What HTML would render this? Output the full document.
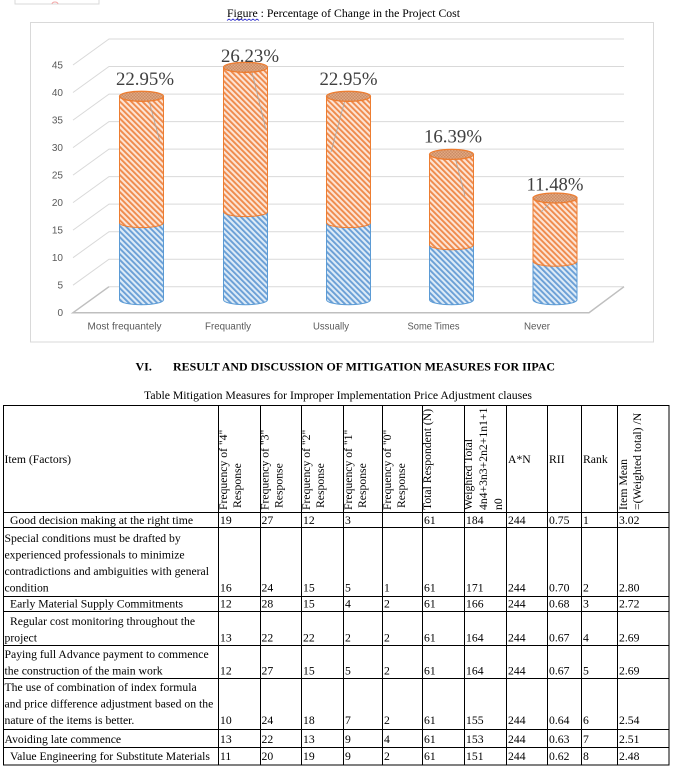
<!DOCTYPE html>
<html>
<head>
<meta charset="utf-8">
<style>
  html,body{margin:0;padding:0;background:#fff;}
  svg{display:block;}
  .serif{font-family:"Liberation Serif","Times New Roman",serif;}
  .sans{font-family:"Liberation Sans",Arial,sans-serif;}
  .tb{font-family:"Liberation Serif","Times New Roman",serif;font-size:11.7px;fill:#000;}
</style>
</head>
<body>
<svg width="689" height="774" viewBox="0 0 689 774" xmlns="http://www.w3.org/2000/svg">
  <defs>
    <pattern id="po" width="4" height="4" patternUnits="userSpaceOnUse" patternTransform="rotate(-45)">
      <rect width="4" height="4" fill="#FCE4D5"/>
      <rect width="1.9" height="4" fill="#EF8A4C"/>
    </pattern>
    <pattern id="pb" width="4" height="4" patternUnits="userSpaceOnUse" patternTransform="rotate(-45)">
      <rect width="4" height="4" fill="#DDEBF7"/>
      <rect width="1.9" height="4" fill="#6A9FD6"/>
    </pattern>
    <pattern id="pt" width="3" height="3" patternUnits="userSpaceOnUse">
      <rect width="3" height="3" fill="#E3A880"/>
      <rect width="1.5" height="1.5" fill="#C98C66"/>
      <rect x="1.5" y="1.5" width="1.5" height="1.5" fill="#C98C66"/>
    </pattern>
  </defs>

  <!-- top-left cut box -->
  <rect x="15" y="-10" width="84" height="14" fill="none" stroke="#d9d9d9"/>
  <path d="M52,4 a3,2 0 0 1 6,0" stroke="#f2a7a7" fill="none"/>

  <!-- Figure title -->
  <text class="serif" x="227" y="17" font-size="12" textLength="233" lengthAdjust="spacingAndGlyphs" fill="#000">Figure : Percentage of Change in the Project Cost</text>
  <polyline points="227,20.5 229,19 231,20.5 233,19 235,20.5 237,19 239,20.5 241,19 243,20.5 245,19 247,20.5 249,19 251,20.5 253,19 255,20.5 257,19 259,20.5" fill="none" stroke="#3b3bd0" stroke-width="0.8"/>

  <!-- Chart frame -->
  <rect x="30.5" y="22.5" width="623" height="319.5" fill="#fff" stroke="#d9d9d9" stroke-width="1"/>

  <!-- Gridlines: back wall + side diagonals -->
  <g stroke="#d9d9d9" stroke-width="1" fill="none">
    <polyline points="73,285.2 109,259.2 624,259.2"/>
    <polyline points="73,257.7 109,231.7 624,231.7"/>
    <polyline points="73,230.1 109,204.1 624,204.1"/>
    <polyline points="73,202.6 109,176.6 624,176.6"/>
    <polyline points="73,175.1 109,149.1 624,149.1"/>
    <polyline points="73,147.6 109,121.6 624,121.6"/>
    <polyline points="73,120.1 109,94.1 624,94.1"/>
    <polyline points="73,92.5 109,66.5 624,66.5"/>
    <polyline points="73,65.0 109,39.0 624,39.0"/>
    <line x1="109" y1="286.7" x2="624" y2="286.7"/>
  </g>
  <!-- Floor -->
  <polyline points="109,286.7 73,312.7 589,312.7 624,286.7" fill="none" stroke="#bfbfbf" stroke-width="1.5"/>

  <!-- Y labels -->
  <g class="sans" font-size="10" fill="#595959" text-anchor="end">
    <text x="63" y="316.2">0</text>
    <text x="63" y="288.7">5</text>
    <text x="63" y="261.2">10</text>
    <text x="63" y="233.6">15</text>
    <text x="63" y="206.1">20</text>
    <text x="63" y="178.6">25</text>
    <text x="63" y="151.1">30</text>
    <text x="63" y="123.6">35</text>
    <text x="63" y="96.0">40</text>
    <text x="63" y="68.5">45</text>
  </g>

  <!-- Bars -->
  <!-- Bar 1 cx=141.5 -->
  <path d="M119.5,222.6 L119.5,299.7 A22,5 0 0 0 163.5,299.7 L163.5,222.6 Z" fill="url(#pb)" stroke="#5B9BD5" stroke-width="1"/>
  <path d="M119.5,96.3 L119.5,222.6 A22,5 0 0 0 163.5,222.6 L163.5,96.3 Z" fill="url(#po)" stroke="#ED7D31" stroke-width="1"/>
  <line x1="148" y1="97" x2="160" y2="142" stroke="#a6a6a6" stroke-width="0.8"/>
  <ellipse cx="141.5" cy="96.3" rx="22" ry="5" fill="url(#pt)" stroke="#ED7D31" stroke-width="1.3"/>

  <!-- Bar 2 cx=245.5 -->
  <path d="M223.5,211.6 L223.5,299.7 A22,5 0 0 0 267.5,299.7 L267.5,211.6 Z" fill="url(#pb)" stroke="#5B9BD5" stroke-width="1"/>
  <path d="M223.5,67.3 L223.5,211.6 A22,5 0 0 0 267.5,211.6 L267.5,67.3 Z" fill="url(#po)" stroke="#ED7D31" stroke-width="1"/>
  <line x1="251" y1="68" x2="266" y2="130" stroke="#a6a6a6" stroke-width="0.8"/>
  <ellipse cx="245.5" cy="67.3" rx="22" ry="5" fill="url(#pt)" stroke="#ED7D31" stroke-width="1.3"/>

  <!-- Bar 3 cx=348.5 -->
  <path d="M326.5,222.6 L326.5,299.7 A22,5 0 0 0 370.5,299.7 L370.5,222.6 Z" fill="url(#pb)" stroke="#5B9BD5" stroke-width="1"/>
  <path d="M326.5,96.3 L326.5,222.6 A22,5 0 0 0 370.5,222.6 L370.5,96.3 Z" fill="url(#po)" stroke="#ED7D31" stroke-width="1"/>
  <line x1="345" y1="100" x2="331" y2="152" stroke="#a6a6a6" stroke-width="0.8"/>
  <ellipse cx="348.5" cy="96.3" rx="22" ry="5" fill="url(#pt)" stroke="#ED7D31" stroke-width="1.3"/>

  <!-- Bar 4 cx=451.5 -->
  <path d="M429.5,244.7 L429.5,299.7 A22,5 0 0 0 473.5,299.7 L473.5,244.7 Z" fill="url(#pb)" stroke="#5B9BD5" stroke-width="1"/>
  <path d="M429.5,154.4 L429.5,244.7 A22,5 0 0 0 473.5,244.7 L473.5,154.4 Z" fill="url(#po)" stroke="#ED7D31" stroke-width="1"/>
  <line x1="455" y1="157" x2="465" y2="196" stroke="#a6a6a6" stroke-width="0.8"/>
  <ellipse cx="451.5" cy="154.4" rx="22" ry="5" fill="url(#pt)" stroke="#ED7D31" stroke-width="1.3"/>

  <!-- Bar 5 cx=555 -->
  <path d="M533,261.2 L533,299.7 A22,5 0 0 0 577,299.7 L577,261.2 Z" fill="url(#pb)" stroke="#5B9BD5" stroke-width="1"/>
  <path d="M533,198.0 L533,261.2 A22,5 0 0 0 577,261.2 L577,198.0 Z" fill="url(#po)" stroke="#ED7D31" stroke-width="1"/>
  <line x1="553" y1="200" x2="541" y2="212" stroke="#a6a6a6" stroke-width="0.8"/>
  <ellipse cx="555" cy="198.0" rx="22" ry="5" fill="url(#pt)" stroke="#ED7D31" stroke-width="1.3"/>

  <!-- Data labels -->
  <g class="serif" font-size="19" fill="#404040" text-anchor="middle">
    <text x="145" y="85" textLength="58" lengthAdjust="spacingAndGlyphs">22.95%</text>
    <text x="250" y="62" textLength="58" lengthAdjust="spacingAndGlyphs">26.23%</text>
    <text x="348.5" y="85" textLength="58" lengthAdjust="spacingAndGlyphs">22.95%</text>
    <text x="453" y="142.7" textLength="58" lengthAdjust="spacingAndGlyphs">16.39%</text>
    <text x="555" y="190.7" textLength="57" lengthAdjust="spacingAndGlyphs">11.48%</text>
  </g>

  <!-- X labels -->
  <g class="sans" font-size="10" fill="#595959" text-anchor="middle">
    <text x="124.5" y="329.5" textLength="74" lengthAdjust="spacingAndGlyphs">Most frequantely</text>
    <text x="228" y="329.5" textLength="46" lengthAdjust="spacingAndGlyphs">Frequantly</text>
    <text x="331" y="329.5" textLength="36" lengthAdjust="spacingAndGlyphs">Ussually</text>
    <text x="433.5" y="329.5" textLength="52" lengthAdjust="spacingAndGlyphs">Some Times</text>
    <text x="537" y="329.5" textLength="26" lengthAdjust="spacingAndGlyphs">Never</text>
  </g>

  <!-- Section heading -->
  <text class="serif" x="135.5" y="370.5" font-size="12" font-weight="bold" fill="#000">VI.</text>
  <text class="serif" x="173" y="370.5" font-size="12" font-weight="bold" fill="#000" textLength="382" lengthAdjust="spacingAndGlyphs">RESULT AND DISCUSSION OF MITIGATION MEASURES FOR IIPAC</text>

  <!-- Table caption -->
  <text class="serif" x="144" y="399" font-size="12" fill="#000" textLength="388" lengthAdjust="spacingAndGlyphs">Table Mitigation Measures for Improper Implementation Price Adjustment clauses</text>

  <!-- Table grid -->
  <g stroke="#000" stroke-width="1" fill="none" shape-rendering="crispEdges">
    <rect x="3.5" y="405.5" width="665.5" height="359.5"/>
    <!-- horizontal row lines -->
    <line x1="3.5" y1="512.5" x2="669" y2="512.5"/>
    <line x1="3.5" y1="527.5" x2="669" y2="527.5"/>
    <line x1="3.5" y1="596.5" x2="669" y2="596.5"/>
    <line x1="3.5" y1="611.5" x2="669" y2="611.5"/>
    <line x1="3.5" y1="645.5" x2="669" y2="645.5"/>
    <line x1="3.5" y1="678.5" x2="669" y2="678.5"/>
    <line x1="3.5" y1="729.5" x2="669" y2="729.5"/>
    <line x1="3.5" y1="747.5" x2="669" y2="747.5"/>
    <!-- vertical column lines -->
    <line x1="218.5" y1="405.5" x2="218.5" y2="765"/>
    <line x1="260.5" y1="405.5" x2="260.5" y2="765"/>
    <line x1="301.5" y1="405.5" x2="301.5" y2="765"/>
    <line x1="343.5" y1="405.5" x2="343.5" y2="765"/>
    <line x1="382.5" y1="405.5" x2="382.5" y2="765"/>
    <line x1="422.5" y1="405.5" x2="422.5" y2="765"/>
    <line x1="464.5" y1="405.5" x2="464.5" y2="765"/>
    <line x1="506.5" y1="405.5" x2="506.5" y2="765"/>
    <line x1="547.5" y1="405.5" x2="547.5" y2="765"/>
    <line x1="581.5" y1="405.5" x2="581.5" y2="765"/>
    <line x1="617.5" y1="405.5" x2="617.5" y2="765"/>
  </g>

  <!-- Header text -->
  <g class="tb">
    <text x="4.5" y="463">Item (Factors)</text>
    <text x="508" y="463">A*N</text>
    <text x="549" y="463">RII</text>
    <text x="583" y="463">Rank</text>

    <text transform="translate(227,510) rotate(-90)">Frequency of &quot;4&quot;</text>
    <text transform="translate(241,508) rotate(-90)">Response</text>
    <text transform="translate(268.5,510) rotate(-90)">Frequency of &quot;3&quot;</text>
    <text transform="translate(282.5,508) rotate(-90)">Response</text>
    <text transform="translate(310,510) rotate(-90)">Frequency of &quot;2&quot;</text>
    <text transform="translate(324,508) rotate(-90)">Response</text>
    <text transform="translate(352,510) rotate(-90)">Frequency of &quot;1&quot;</text>
    <text transform="translate(366,508) rotate(-90)">Response</text>
    <text transform="translate(391,510) rotate(-90)">Frequency of &quot;0&quot;</text>
    <text transform="translate(405,508) rotate(-90)">Response</text>
    <text transform="translate(431,510) rotate(-90)">Total Respondent (N)</text>
    <text transform="translate(472,510) rotate(-90)">Weighted Total</text>
    <text transform="translate(487,510) rotate(-90)">4n4+3n3+2n2+1n1+1</text>
    <text transform="translate(502,510) rotate(-90)">n0</text>
    <text transform="translate(627,510) rotate(-90)">Item Mean</text>
    <text transform="translate(641,510) rotate(-90)">=(Weighted total) /N</text>
  </g>

  <!-- Body item text -->
  <g class="tb">
    <text x="10" y="524">Good decision making at the right time</text>
    <text x="4.5" y="542">Special conditions must be drafted by</text>
    <text x="4.5" y="558.5">experienced professionals to minimize</text>
    <text x="4.5" y="575">contradictions and ambiguities with general</text>
    <text x="4.5" y="591.5">condition</text>
    <text x="10" y="607.5">Early Material Supply Commitments</text>
    <text x="10" y="625">Regular cost monitoring throughout the</text>
    <text x="4.5" y="641.5">project</text>
    <text x="4.5" y="658">Paying full Advance payment to commence</text>
    <text x="4.5" y="674.5">the construction of the main work</text>
    <text x="4.5" y="691">The use of combination of index formula</text>
    <text x="4.5" y="707.5">and price difference adjustment based on the</text>
    <text x="4.5" y="724">nature of the items is better.</text>
    <text x="4.5" y="743">Avoiding late commence</text>
    <text x="10" y="760">Value Engineering for Substitute Materials</text>
  </g>

  <!-- Body numbers -->
  <g class="tb">
    <!-- row 1 -->
    <text x="220" y="524">19</text><text x="261.5" y="524">27</text><text x="303" y="524">12</text><text x="345" y="524">3</text>
    <text x="424" y="524">61</text><text x="466" y="524">184</text><text x="508" y="524">244</text><text x="549" y="524">0.75</text><text x="583" y="524">1</text><text x="619" y="524">3.02</text>
    <!-- row 2 -->
    <text x="220" y="591.5">16</text><text x="261.5" y="591.5">24</text><text x="303" y="591.5">15</text><text x="345" y="591.5">5</text><text x="384" y="591.5">1</text>
    <text x="424" y="591.5">61</text><text x="466" y="591.5">171</text><text x="508" y="591.5">244</text><text x="549" y="591.5">0.70</text><text x="583" y="591.5">2</text><text x="619" y="591.5">2.80</text>
    <!-- row 3 -->
    <text x="220" y="607.5">12</text><text x="261.5" y="607.5">28</text><text x="303" y="607.5">15</text><text x="345" y="607.5">4</text><text x="384" y="607.5">2</text>
    <text x="424" y="607.5">61</text><text x="466" y="607.5">166</text><text x="508" y="607.5">244</text><text x="549" y="607.5">0.68</text><text x="583" y="607.5">3</text><text x="619" y="607.5">2.72</text>
    <!-- row 4 -->
    <text x="220" y="641.5">13</text><text x="261.5" y="641.5">22</text><text x="303" y="641.5">22</text><text x="345" y="641.5">2</text><text x="384" y="641.5">2</text>
    <text x="424" y="641.5">61</text><text x="466" y="641.5">164</text><text x="508" y="641.5">244</text><text x="549" y="641.5">0.67</text><text x="583" y="641.5">4</text><text x="619" y="641.5">2.69</text>
    <!-- row 5 -->
    <text x="220" y="674.5">12</text><text x="261.5" y="674.5">27</text><text x="303" y="674.5">15</text><text x="345" y="674.5">5</text><text x="384" y="674.5">2</text>
    <text x="424" y="674.5">61</text><text x="466" y="674.5">164</text><text x="508" y="674.5">244</text><text x="549" y="674.5">0.67</text><text x="583" y="674.5">5</text><text x="619" y="674.5">2.69</text>
    <!-- row 6 -->
    <text x="220" y="724">10</text><text x="261.5" y="724">24</text><text x="303" y="724">18</text><text x="345" y="724">7</text><text x="384" y="724">2</text>
    <text x="424" y="724">61</text><text x="466" y="724">155</text><text x="508" y="724">244</text><text x="549" y="724">0.64</text><text x="583" y="724">6</text><text x="619" y="724">2.54</text>
    <!-- row 7 -->
    <text x="220" y="743">13</text><text x="261.5" y="743">22</text><text x="303" y="743">13</text><text x="345" y="743">9</text><text x="384" y="743">4</text>
    <text x="424" y="743">61</text><text x="466" y="743">153</text><text x="508" y="743">244</text><text x="549" y="743">0.63</text><text x="583" y="743">7</text><text x="619" y="743">2.51</text>
    <!-- row 8 -->
    <text x="220" y="760">11</text><text x="261.5" y="760">20</text><text x="303" y="760">19</text><text x="345" y="760">9</text><text x="384" y="760">2</text>
    <text x="424" y="760">61</text><text x="466" y="760">151</text><text x="508" y="760">244</text><text x="549" y="760">0.62</text><text x="583" y="760">8</text><text x="619" y="760">2.48</text>
  </g>
</svg>
</body>
</html>
